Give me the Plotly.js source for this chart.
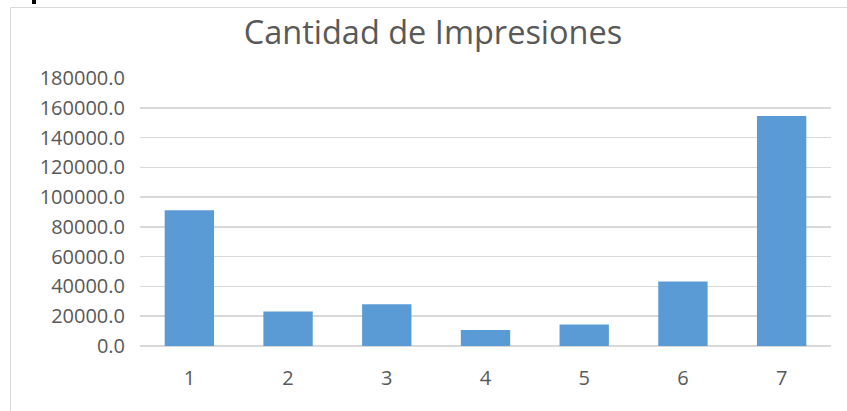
<!DOCTYPE html>
<html>
<head>
<meta charset="utf-8">
<script src="https://cdn.plot.ly/plotly-3.0.1.min.js"></script>
<style>html,body{margin:0;padding:0;background:#fff;}#chart{width:847px;height:411px;}</style>
</head>
<body>
<div id="chart"></div>
<script>
const categories = ['1', '2', '3', '4', '5', '6', '7'];
const impresiones = [91100, 23100, 28100, 10800, 14400, 43300, 154500];
const chartTitle = 'Cantidad de Impresiones';
const yTicks = [0, 20000, 40000, 60000, 80000, 100000, 120000, 140000, 160000, 180000];

const W = 847, H = 411;
const L = 140, R = 16, T = 78, B = 65;
const pw = W - L - R, ph = H - T - B;
function px(x) { return (x - L) / pw; }
function py(y) { return (H - B - y) / ph; }

const trace = {
  type: 'bar',
  x: categories,
  y: impresiones,
  marker: {color: '#5B9BD5'},
  hoverinfo: 'x+y'
};

const layout = {
  width: W, height: H,
  margin: {l: L, r: R, t: T, b: B, autoexpand: false},
  paper_bgcolor: '#ffffff',
  plot_bgcolor: '#ffffff',
  showlegend: false,
  bargap: 0.5,
  title: {
    text: chartTitle,
    font: {family: 'Open Sans, sans-serif', size: 32.5, color: '#595959'},
    x: 433 / W, xref: 'container', xanchor: 'center',
    y: (H - 33) / H, yref: 'container', yanchor: 'middle'
  },
  xaxis: {
    type: 'category',
    showgrid: false,
    showline: false,
    zeroline: false,
    ticks: 'outside', ticklen: 14, tickcolor: 'rgba(0,0,0,0)',
    tickfont: {family: 'Open Sans, sans-serif', size: 20, color: '#595959'}
  },
  yaxis: {
    range: [0, 180000],
    tickvals: yTicks,
    tickformat: '.1f',
    showgrid: true,
    gridcolor: '#D9D9D9',
    gridwidth: 1.5,
    zeroline: true,
    zerolinecolor: '#D9D9D9',
    zerolinewidth: 1.5,
    showline: false,
    ticks: 'outside', ticklen: 10, tickcolor: 'rgba(0,0,0,0)',
    tickfont: {family: 'Open Sans, sans-serif', size: 20, color: '#595959'}
  },
  shapes: [
    {type: 'rect', xref: 'paper', yref: 'paper', layer: 'below',
     x0: px(10.5), x1: px(900), y0: py(500), y1: py(7.5),
     line: {color: '#D9D9D9', width: 1}, fillcolor: 'rgba(0,0,0,0)'},
    {type: 'rect', xref: 'paper', yref: 'paper', layer: 'above',
     x0: px(32), x1: px(36), y0: py(4), y1: py(-2),
     line: {width: 0}, fillcolor: '#000000'}
  ]
};

Plotly.newPlot('chart', [trace], layout, {displayModeBar: false, staticPlot: true});
</script>
</body>
</html>
